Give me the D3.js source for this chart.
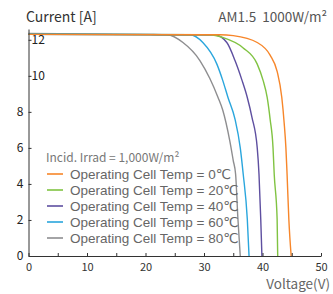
<!DOCTYPE html>
<html>
<head>
<meta charset="utf-8">
<script src="https://cdn.jsdelivr.net/npm/d3@7"></script>
<style>
  body { margin: 0; background: #fff; }
  svg text { font-family: "Noto Sans CJK KR", "Noto Sans", sans-serif; }
  svg .row text { font-family: "Liberation Sans", "DejaVu Sans", sans-serif; }
</style>
</head>
<body>
<svg id="chart"></svg>
<script>
// temperature labels (legend order)
const temps = ["0℃", "20℃", "40℃", "60℃", "80℃"];

// I-V curves, voltage [V] and current [A]
const volts0  = [0, 32.7, 35.0, 39.1, 41.3, 42.5, 43.3, 43.7, 44.0, 44.2, 44.5, 44.9];
const amps0   = [12.3, 12.28, 12.23, 11.85, 11.15, 10.25, 8.8, 7.4, 6.0, 4.55, 2.05, 0];
const volts20 = [0, 31.0, 33.2, 36.7, 39.1, 40.1, 40.8, 41.3, 41.8, 42.0, 42.5, 42.6];
const amps20  = [12.3, 12.28, 12.13, 11.55, 10.65, 9.75, 8.8, 7.6, 6.0, 4.55, 2.05, 0];
const volts40 = [0, 31.9, 33.9, 35.3, 36.5, 37.4, 38.2, 39.1, 39.4, 39.7, 39.9];
const amps40  = [12.3, 12.27, 11.85, 10.85, 9.75, 8.8, 7.7, 6.0, 4.55, 2.05, 0];
const volts60 = [0, 27.6, 29.8, 32.2, 33.2, 34.1, 35.3, 36.2, 36.7, 37.4, 37.7];
const amps60  = [12.33, 12.28, 11.85, 10.65, 9.75, 8.8, 7.6, 6.0, 4.55, 2.05, 0];
const volts80 = [0, 20.8, 23.7, 26.4, 29.3, 31.0, 32.4, 33.2, 34.4, 35.0, 35.4, 35.8, 36.2];
const amps80  = [12.35, 12.3, 12.28, 11.85, 10.85, 9.85, 8.8, 8.1, 6.4, 5.3, 4.55, 2.05, 0];

const xTicks = [0, 10, 20, 30, 40, 50];
const yTicks = [0, 2, 4, 6, 8, 10, 12];

const colors = ["#f7862a", "#80c342", "#5e4fa0", "#2aa6dd", "#8e8e90"];

const series = [
  [volts0, amps0], [volts20, amps20], [volts40, amps40], [volts60, amps60], [volts80, amps80]
].map(([v, a], i) => ({
  name: temps[i],
  color: colors[i],
  points: v.map((x, j) => ({ v: x, i: a[j] }))
}));

const width = 333, height = 294;
const margin = { top: 29, right: 12, bottom: 38, left: 28.5 };

const svg = d3.select("#chart")
  .attr("width", width)
  .attr("height", height);

const xscale = d3.scaleLinear()
  .domain([0, 50])
  .range([margin.left, width - margin.right]);

const yscale = d3.scaleLinear()
  .domain([0, 12.6])
  .range([height - margin.bottom, margin.top]);

// curves
const line = d3.line()
  .x(d => xscale(d.v))
  .y(d => yscale(d.i))
  .curve(d3.curveMonotoneX);

svg.append("g")
  .selectAll("path")
  .data(series.slice().reverse())
  .join("path")
  .attr("d", d => line(d.points))
  .attr("fill", "none")
  .attr("stroke", d => d.color)
  .attr("stroke-width", 1.4);

// x axis
const xaxis = d3.axisBottom(xscale)
  .tickValues(d3.range(0, 51, 5))
  .tickSize(-3)
  .tickSizeOuter(0)
  .tickPadding(7)
  .tickFormat(d => xTicks.includes(d) ? d : "");

const xg = svg.append("g")
  .attr("transform", `translate(0, ${yscale(0)})`)
  .call(xaxis);
xg.select(".domain").attr("stroke", "#333");
xg.selectAll(".tick line").attr("stroke", "#333");
xg.selectAll("text")
  .attr("fill", "#333")
  .attr("font-size", "11px");

// y axis
const yaxis = d3.axisLeft(yscale)
  .tickValues(yTicks)
  .tickSize(-3)
  .tickSizeOuter(0)
  .tickPadding(5);

const yg = svg.append("g")
  .attr("transform", `translate(${margin.left}, 0)`)
  .call(yaxis);
yg.select(".domain").attr("stroke", "#333");
yg.selectAll(".tick line").attr("stroke", "#333");
yg.selectAll("text")
  .attr("fill", "#222")
  .attr("font-size", "12px");
// the two top labels sit inside the axis
yg.selectAll(".tick text")
  .filter(d => d >= 10)
  .attr("text-anchor", "start")
  .attr("x", 3);

// titles
svg.append("text")
  .attr("x", 26)
  .attr("y", 22)
  .attr("fill", "#333")
  .attr("font-size", "14px")
  .text("Current [A]");

svg.append("text")
  .attr("x", 327)
  .attr("y", 22)
  .attr("text-anchor", "end")
  .attr("fill", "#555")
  .attr("font-size", "13.5px")
  .text("AM1.5  1000W/m²")
  .style("white-space", "pre");

svg.append("text")
  .attr("x", 330)
  .attr("y", 289)
  .attr("text-anchor", "end")
  .attr("fill", "#666")
  .attr("font-size", "13.5px")
  .text("Voltage(V)");

// legend
const legend = svg.append("g");

legend.append("text")
  .attr("x", 46)
  .attr("y", 162)
  .attr("fill", "#777")
  .attr("font-size", "12px")
  .text("Incid. Irrad = 1,000W/m²");

const rows = legend.selectAll("g.row")
  .data(series)
  .join("g")
  .attr("class", "row")
  .attr("transform", (d, i) => `translate(0, ${174 + i * 16})`);

rows.append("line")
  .attr("x1", 47)
  .attr("x2", 63)
  .attr("stroke", d => d.color)
  .attr("stroke-width", 1.6);

rows.append("text")
  .attr("x", 70)
  .attr("dy", "0.35em")
  .attr("fill", "#666")
  .attr("font-size", "13.5px")
  .text(d => `Operating Cell Temp = ${d.name}`);
</script>
</body>
</html>
